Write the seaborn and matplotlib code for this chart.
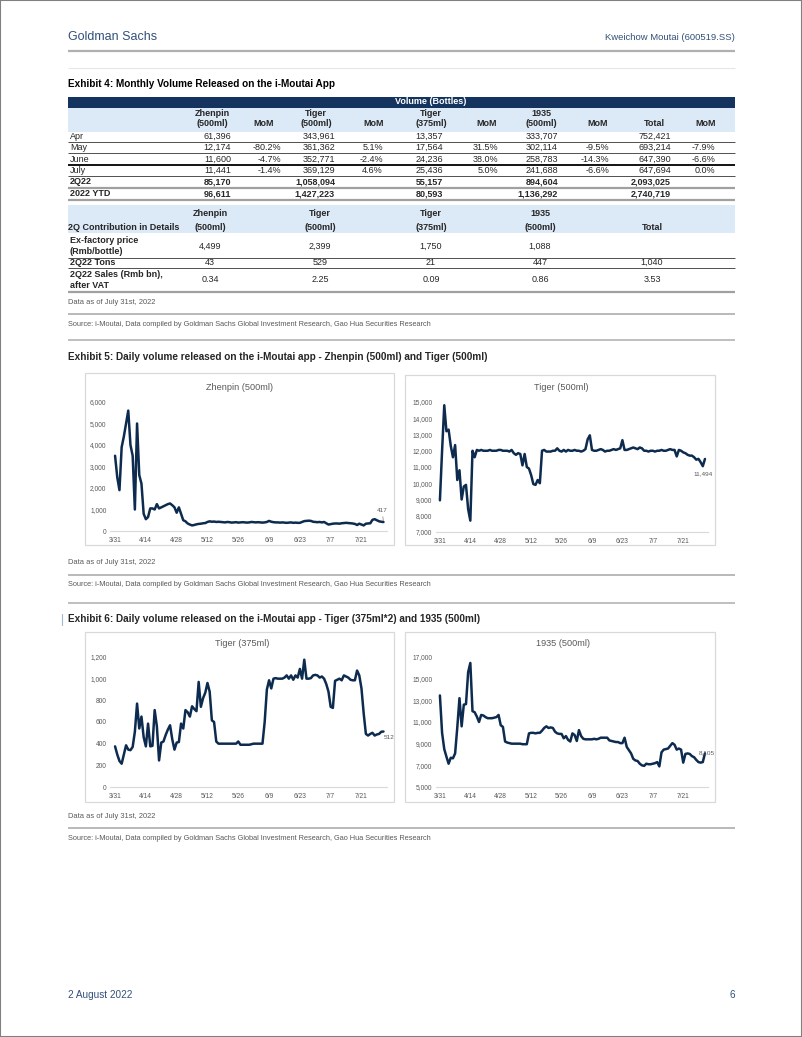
import numpy as np
import pandas as pd
import matplotlib
matplotlib.use("Agg")
import matplotlib.pyplot as plt
from matplotlib.patches import Rectangle
import seaborn as sns

W, H = 802, 1037

# ---------------- table data (Exhibit 4) ----------------
row_labels = ["Apr", "May", "June", "July", "2Q22", "2022 YTD"]
zhenpin_500 = [61396, 12174, 11600, 11441, 85170, 96611]
zhenpin_mom = [None, -80.2, -4.7, -1.4, None, None]
tiger_500 = [343961, 361362, 352771, 369129, 1058094, 1427223]
tiger_500_mom = [None, 5.1, -2.4, 4.6, None, None]
tiger_375 = [13357, 17564, 24236, 25436, 55157, 80593]
tiger_375_mom = [None, 31.5, 38.0, 5.0, None, None]
s1935_500 = [333707, 302114, 258783, 241688, 894604, 1136292]
s1935_mom = [None, -9.5, -14.3, -6.6, None, None]
total = [752421, 693214, 647390, 647694, 2093025, 2740719]
total_mom = [None, -7.9, -6.6, 0.0, None, None]

contrib_labels = ["Ex-factory price\n(Rmb/bottle)", "2Q22 Tons", "2Q22 Sales (Rmb bn),\nafter VAT"]
ex_factory_price = ["4,499", "2,399", "1,750", "1,088", ""]
tons_2q22 = ["43", "529", "21", "447", "1,040"]
sales_2q22 = ["0.34", "2.25", "0.09", "0.86", "3.53"]

# ---------------- daily data (3/31 - 7/31) ----------------
dates = pd.date_range("2022-03-31", "2022-07-31", freq="D")

zhenpin_daily = [
    3500, 2500, 1900, 3900, 4400, 5000, 5600, 4000, 3500, 1000,
    5000, 2600, 2200, 800, 550, 650, 1050, 1050, 1000, 1250,
    1050, 1100, 1150, 1200, 1250, 1280, 1200, 1100, 850, 1100,
    800, 500, 450, 350, 300, 260, 280, 310, 330, 340,
    360, 370, 420, 450, 430, 440, 420, 430, 420, 410,
    400, 420, 410, 390, 400, 410, 390, 400, 410, 400,
    390, 400, 420, 410, 400, 410, 400, 390, 400, 420,
    470, 430, 410, 400, 400, 390, 400, 390, 380, 390,
    400, 380, 390, 380, 380, 420, 460, 470, 480, 470,
    430, 420, 410, 420, 400, 420, 360, 300, 320, 340,
    350, 350, 340, 360, 370, 380, 370, 360, 350, 330,
    280, 340, 300, 260, 340, 350, 360, 520, 550, 500,
    450, 430, 417,
]

tiger500_daily = [
    8950, 12000, 14800, 13200, 13300, 12300, 11600, 12350, 10200, 10800,
    9000, 9800, 9900, 8400, 7700, 12000, 11600, 12050, 12000, 12050,
    12000, 12000, 12000, 12050, 12000, 12000, 12000, 12050, 12050, 12000,
    12000, 12000, 11950, 12050, 11850, 11750, 11850, 11800, 11100, 11800,
    11000, 10900, 10500, 9950, 9900, 10200, 10000, 12000, 12050, 11950,
    11950, 11950, 12000, 12000, 12150, 12000, 11950, 12050, 11950, 12050,
    12000, 12000, 12050, 12000, 12000, 11950, 12000, 12100, 12700, 12950,
    12050, 12000, 12000, 12050, 12100, 12050, 11950, 12000, 12000, 12050,
    12100, 12050, 12100, 12150, 12650, 12050, 12050, 12100, 12150, 12200,
    12150, 12100, 12200, 12150, 12000, 12000, 11950, 12000, 12000, 11950,
    12000, 12000, 12050, 12000, 12000, 12050, 12100, 12050, 12050, 11650,
    12050, 12000, 11900, 11850, 11750, 11700, 11700, 11600, 11450, 11500,
    11300, 11050, 11494,
]

tiger375_daily = [
    375, 300, 240, 215, 300, 385, 345, 340, 370, 510,
    770, 540, 650, 460, 375, 585, 375, 380, 710, 560,
    245, 410, 420, 480, 530, 570, 440, 345, 410, 415,
    585, 540, 710, 690, 650, 745, 720, 700, 970, 740,
    820, 870, 960, 880, 615, 600, 420, 400, 400, 400,
    400, 400, 400, 400, 400, 400, 420, 390, 390, 390,
    390, 390, 395, 400, 400, 400, 400, 400, 600, 900,
    985, 910, 1000, 1005, 1000, 1000, 1000, 1010, 1030, 1000,
    1030, 990, 1030, 1010, 1090, 1000, 1175, 1000, 1000, 1005,
    1030, 1035, 1030, 1010, 1020, 1000, 950, 880, 740, 730,
    980, 990, 1000, 985, 1030, 1020, 1010, 990, 985, 985,
    1075, 1030, 910, 680, 490, 475, 490, 500, 475, 485,
    490, 510, 512,
]

s1935_daily = [
    13450, 10000, 8500, 7800, 7150, 7700, 7650, 8100, 10500, 13200,
    10600, 12600, 12650, 15600, 16450, 12000, 11900, 11500, 11000, 11650,
    11600, 11450, 11350, 11350, 11350, 11400, 11450, 11650, 10700, 10550,
    9200, 9100, 9050, 9000, 9000, 9000, 9000, 9000, 8950, 8950,
    8950, 9950, 10000, 10000, 9950, 10000, 10000, 10200, 10450, 10600,
    10450, 10500, 10450, 10100, 9950, 9900, 9900, 9500, 9700, 9350,
    9200, 9950, 9800, 9250, 10250, 9700, 9450, 9400, 9400, 9400,
    9400, 9450, 9400, 9450, 9550, 9550, 9550, 9550, 9300, 9250,
    9200, 9150, 9150, 9050, 9050, 9550, 8700, 8400, 8100, 7600,
    7450, 7400, 7150, 7000, 6950, 7150, 7100, 7100, 7150, 7200,
    7300, 6900, 8200, 8450, 8500, 8550, 8800, 9050, 8900, 8450,
    8550, 8450, 7250, 8050, 8100, 8050, 7850, 7750, 7500, 7300,
    7250, 7300, 8105,
]

NAVY = "#0d2b4e"
HEAD = "#33507a"
GREY_TXT = "#595959"

sns.set_theme(style="white")
plt.rcParams["font.family"] = ["Liberation Sans", "DejaVu Sans"]

fig = plt.figure(figsize=(W / 100, H / 100), dpi=100)
page = fig.add_axes([0, 0, 1, 1])
page.set_xlim(0, W)
page.set_ylim(H, 0)
page.axis("off")

# page border
fig.add_artist(Rectangle((0, 0), 1, 1, transform=fig.transFigure, fill=False,
                         edgecolor="#808080", lw=1.5))


def hline(y, x0=68, x1=735, color="#b4b4b4", lw=1.0):
    page.plot([x0, x1], [y, y], color=color, lw=lw, solid_capstyle="butt")


# header / footer
page.text(68, 37, "Goldman Sachs", fontsize=9, color=HEAD, va="center")
page.text(735, 38, "Kweichow Moutai (600519.SS)", fontsize=6.8, color=HEAD,
          va="center", ha="right")
hline(51, color="#b0b0b0", lw=1.6)
hline(68, color="#e6e6e6", lw=0.8)
page.text(68, 995, "2 August 2022", fontsize=7.2, color=HEAD, va="center")
page.text(735, 995, "6", fontsize=7.2, color=HEAD, va="center", ha="right")
page.plot([62, 62], [614, 625], color="#9bb7d4", lw=0.8)

# ---------------- Exhibit 4 table ----------------
page.text(68, 84, "Exhibit 4: Monthly Volume Released on the i-Moutai App",
          fontsize=7.2, fontweight="bold", va="center", color="black")

page.add_patch(Rectangle((68, 96.5), 667, 11, facecolor="#14335e", edgecolor="none"))
page.text(431, 102, "Volume (Bottles)", fontsize=6.5, fontweight="bold", color="white",
          ha="center", va="center")
page.add_patch(Rectangle((68, 107.5), 667, 24.5, facecolor="#dce9f7", edgecolor="none"))

head_x = [212, 264, 316, 374, 431, 487, 541, 598, 654, 706]
val_x = [231, 281, 335, 383, 443, 498, 558, 609, 671, 715]
head_top = ["Zhenpin", "", "Tiger", "", "Tiger", "", "1935", "", "", ""]
head_bot = ["(500ml)", "MoM", "(500ml)", "MoM", "(375ml)", "MoM", "(500ml)", "MoM", "Total", "MoM"]
for hx, t, b in zip(head_x, head_top, head_bot):
    if t:
        page.text(hx, 113.5, t, fontsize=6.5, fontweight="bold", ha="center", va="center")
    page.text(hx, 124, b, fontsize=6.5, fontweight="bold", ha="center", va="center")

vol_cols = [zhenpin_500, tiger_500, tiger_375, s1935_500, total]
mom_cols = [zhenpin_mom, tiger_500_mom, tiger_375_mom, s1935_mom, total_mom]
row_y = [136.5, 147.5, 159, 170.5, 182, 193.5]
for i, lab in enumerate(row_labels):
    fw = "bold" if i >= 4 else "normal"
    page.text(70, row_y[i], lab, fontsize=6.5, fontweight=fw, va="center")
    for k in range(5):
        page.text(val_x[2 * k], row_y[i], f"{vol_cols[k][i]:,}", fontsize=6.5,
                  fontweight=fw, ha="right", va="center")
        m = mom_cols[k][i]
        if m is not None:
            page.text(val_x[2 * k + 1], row_y[i], f"{m:.1f}%", fontsize=6.5,
                      ha="right", va="center")

hline(141.5, color="#333333", lw=0.6)
hline(153, color="#333333", lw=0.6)
hline(164.7, color="black", lw=1.3)
hline(176, color="#333333", lw=0.6)
hline(187.7, color="#a0a0a0", lw=1.6)
hline(199.5, color="#a0a0a0", lw=1.6)

# contribution table
page.add_patch(Rectangle((68, 205), 667, 28, facecolor="#dce9f7", edgecolor="none"))
c_x = [210, 320, 431, 540, 652]
c_top = ["Zhenpin", "Tiger", "Tiger", "1935", ""]
c_bot = ["(500ml)", "(500ml)", "(375ml)", "(500ml)", "Total"]
for cx, t, b in zip(c_x, c_top, c_bot):
    if t:
        page.text(cx, 213.5, t, fontsize=6.5, fontweight="bold", ha="center", va="center")
    page.text(cx, 227.5, b, fontsize=6.5, fontweight="bold", ha="center", va="center")
page.text(68, 227.5, "2Q Contribution in Details", fontsize=6.5, fontweight="bold", va="center")

c_row_y = [246, 262.5, 280]
for lab, vals, ry in zip(contrib_labels, [ex_factory_price, tons_2q22, sales_2q22], c_row_y):
    page.text(70, ry, lab, fontsize=6.5, fontweight="bold", va="center", linespacing=1.35)
    for cx, v in zip(c_x, vals):
        page.text(cx, ry, v, fontsize=6.5, ha="center", va="center")
hline(257.7, color="#333333", lw=0.6)
hline(267.5, color="#333333", lw=0.6)
hline(292, color="#a0a0a0", lw=1.6)

source = "Source: i-Moutai, Data compiled by Goldman Sachs Global Investment Research, Gao Hua Securities Research"


def notes(y_data, y_rule, y_src, y_rule2):
    page.text(68, y_data, "Data as of July 31st, 2022", fontsize=5.4, color=GREY_TXT, va="center")
    hline(y_rule, color="#a6a6a6", lw=1.1)
    page.text(68, y_src, source, fontsize=5.3, color=GREY_TXT, va="center")
    if y_rule2 is not None:
        hline(y_rule2, color="#b4b4b4", lw=1.2)


notes(303, 314, 324, 340)

# ---------------- Line charts ----------------
page.text(68, 356.5, "Exhibit 5: Daily volume released on the i-Moutai app - Zhenpin (500ml) and Tiger (500ml)",
          fontsize=7.2, fontweight="bold", va="center")
notes(563, 574.5, 585, 603)
page.text(68, 618.5, "Exhibit 6: Daily volume released on the i-Moutai app - Tiger (375ml*2) and 1935 (500ml)",
          fontsize=7.2, fontweight="bold", va="center")
notes(816.5, 828, 838, None)

tick_dates = dates[::14]
tick_labels = [f"{d.month}/{d.day}" for d in tick_dates]


def chart(box, ax_px, xl, values, ylim, ystep, title, title_x, title_y, ann):
    bx0, by0, bx1, by1 = box
    page.add_patch(Rectangle((bx0, by0), bx1 - bx0, by1 - by0, facecolor="white",
                             edgecolor="#d9d9d9", lw=0.9))
    page.text(title_x, title_y, title, fontsize=6.6, color=GREY_TXT, ha="center", va="center")
    l, t, r, b = ax_px
    ax = fig.add_axes([l / W, 1 - b / H, (r - l) / W, (b - t) / H])
    ax.patch.set_alpha(0)
    df = pd.DataFrame({"date": dates, "value": values})
    sns.lineplot(data=df, x="date", y="value", ax=ax, color=NAVY, lw=1.8)
    ax.set_xlim(dates[0] + pd.Timedelta(days=xl[0]), dates[0] + pd.Timedelta(days=xl[1]))
    ax.set_ylim(*ylim)
    ax.set_yticks(np.arange(ylim[0], ylim[1] + 1, ystep))
    ax.set_yticklabels([f"{v:,.0f}" for v in ax.get_yticks()])
    ax.set_xticks(tick_dates)
    ax.set_xticklabels(tick_labels)
    ax.tick_params(axis="both", labelsize=4.8, colors=GREY_TXT, length=0)
    ax.tick_params(axis="y", pad=2.5)
    ax.tick_params(axis="x", pad=4)
    ax.set_xlabel("")
    ax.set_ylabel("")
    for s in ["top", "right", "left"]:
        ax.spines[s].set_visible(False)
    ax.spines["bottom"].set_color("#d9d9d9")
    ax.spines["bottom"].set_linewidth(0.8)
    txt, dx, dy, ha, lead = ann
    kw = {}
    if lead:
        kw["arrowprops"] = dict(arrowstyle="-", color="#7f7f7f", lw=0.5, shrinkA=0, shrinkB=1)
    ax.annotate(txt, xy=(dates[-1], values[-1]), xytext=(dx, dy), textcoords="offset points",
                fontsize=4.6, color=GREY_TXT, ha=ha, va="center", **kw)
    return ax


chart((85, 373, 394, 545), (110, 402, 387, 531), (-2.3, 123.6), zhenpin_daily,
      (0, 6000), 1000, "Zhenpin (500ml)", 240, 388, ("417", -1, 8, "center", True))
chart((405, 375, 715, 545), (436, 402, 708, 532), (-1.8, 123.4), tiger500_daily,
      (7000, 15000), 1000, "Tiger (500ml)", 561, 388, ("11,494", -1.5, -11, "center", False))
chart((85, 632, 394, 802), (110, 657, 387, 787), (-2.3, 123.6), tiger375_daily,
      (0, 1200), 200, "Tiger (375ml)", 242, 643, ("512", 0.5, -4.5, "left", False))
chart((405, 632, 715, 802), (436, 657, 708, 787), (-1.8, 123.4), s1935_daily,
      (5000, 17000), 2000, "1935 (500ml)", 563, 643, ("8,105", 1.5, 0.5, "center", False))

fig.savefig("out.png", dpi=100)
